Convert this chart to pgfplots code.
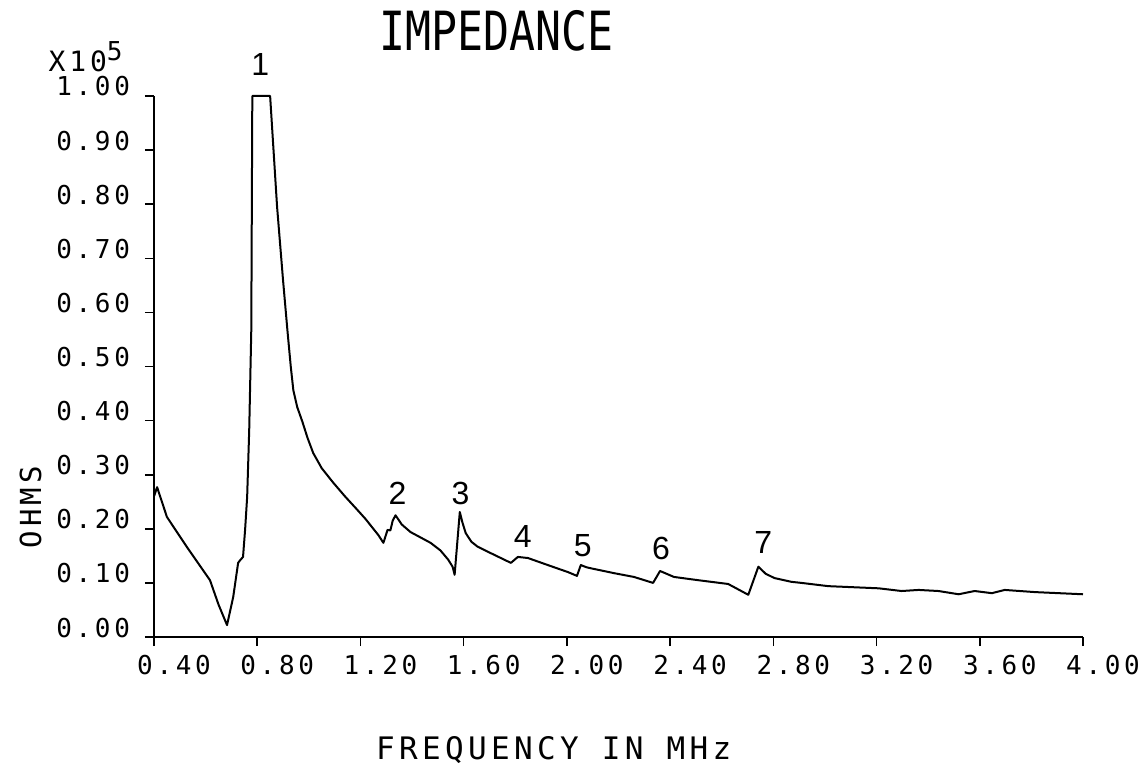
\documentclass[border=0pt]{standalone}
\usepackage{fontspec}
\usepackage{pgfplots}
\pgfplotsset{compat=1.18}

\newfontfamily\plotfont[LetterSpace=14]{DejaVu Sans Mono}
\newfontfamily\titlefont[FakeStretch=0.8]{DejaVu Sans Mono}
\newfontfamily\numfont{Liberation Sans}

\begin{document}
\begin{tikzpicture}
\begin{axis}[
  scale only axis,
  width=464.5pt, height=270.5pt,
  xmin=0.4, xmax=4.0,
  ymin=0, ymax=1.0,
  axis x line*=bottom,
  axis y line*=left,
  axis line style={-, line width=1pt},
  tick align=outside,
  major tick length=4.5pt,
  tick style={line width=0.8pt, black},
  xtick={0.4,0.8,...,4.01},
  ytick={0,0.1,...,1.01},
  /pgf/number format/assume math mode=true,
  xticklabel={\pgfmathprintnumber[fixed,fixed zerofill,precision=2]{\tick}},
  yticklabel={\pgfmathprintnumber[fixed,fixed zerofill,precision=2]{\tick}},
  ticklabel style={font=\plotfont\fontsize{13}{14}\selectfont},
  xticklabel style={anchor=north, xshift=10pt, yshift=-1pt},
  yticklabel style={anchor=base east, xshift=-4pt},
  clip=false,
]
\addplot[black, line width=1pt, line join=round] coordinates {
  (0.400, 0.260) (0.412, 0.277) (0.450, 0.222) (0.528, 0.166)
  (0.617, 0.105) (0.650, 0.060) (0.683, 0.022) (0.707, 0.074)
  (0.726, 0.137) (0.734, 0.142) (0.745, 0.148) (0.753, 0.198)
  (0.761, 0.259) (0.769, 0.383) (0.777, 0.567) (0.781, 1.000)
  (0.850, 1.000) (0.877, 0.795) (0.900, 0.660) (0.917, 0.567)
  (0.930, 0.500) (0.940, 0.456) (0.955, 0.425) (0.975, 0.398)
  (0.995, 0.368) (1.017, 0.340) (1.050, 0.312) (1.095, 0.285)
  (1.140, 0.260) (1.188, 0.235) (1.220, 0.218) (1.250, 0.200)
  (1.270, 0.188) (1.289, 0.174) (1.305, 0.198) (1.316, 0.197)
  (1.325, 0.215) (1.336, 0.225) (1.360, 0.208) (1.394, 0.194)
  (1.472, 0.174) (1.510, 0.160) (1.540, 0.143) (1.557, 0.130)
  (1.565, 0.115) (1.585, 0.231) (1.595, 0.212) (1.608, 0.192)
  (1.630, 0.176) (1.654, 0.167) (1.705, 0.155) (1.783, 0.137)
  (1.810, 0.148) (1.849, 0.146) (1.926, 0.133) (2.004, 0.120)
  (2.039, 0.113) (2.054, 0.133) (2.075, 0.129) (2.093, 0.127)
  (2.183, 0.118) (2.260, 0.111) (2.334, 0.100) (2.361, 0.122)
  (2.415, 0.111) (2.509, 0.105) (2.625, 0.098) (2.668, 0.087)
  (2.703, 0.078) (2.742, 0.130) (2.770, 0.117) (2.804, 0.109)
  (2.870, 0.102) (2.909, 0.100) (3.013, 0.094) (3.208, 0.090)
  (3.297, 0.085) (3.363, 0.087) (3.440, 0.085) (3.518, 0.079)
  (3.580, 0.085) (3.647, 0.081) (3.697, 0.087) (3.814, 0.083)
  (4.000, 0.079)
};
% peak numbers
\node[font=\numfont\fontsize{16}{18}\selectfont] at (axis cs:0.812,1.059) {1};
\node[font=\numfont\fontsize{16}{18}\selectfont] at (axis cs:1.344,0.266) {2};
\node[font=\numfont\fontsize{16}{18}\selectfont] at (axis cs:1.588,0.266) {3};
\node[font=\numfont\fontsize{16}{18}\selectfont] at (axis cs:1.829,0.185) {4};
\node[font=\numfont\fontsize{16}{18}\selectfont] at (axis cs:2.062,0.168) {5};
\node[font=\numfont\fontsize{16}{18}\selectfont] at (axis cs:2.365,0.163) {6};
\node[font=\numfont\fontsize{16}{18}\selectfont] at (axis cs:2.761,0.174) {7};
% titles
\node[font=\titlefont\fontsize{27}{30}\selectfont] at (axis cs:1.728,1.120) {IMPEDANCE};
\node[font=\plotfont\fontsize{14}{16}\selectfont] at (axis cs:0.135,1.072) {X10\raisebox{0.7ex}{\fontsize{13}{14}\selectfont 5}};
\node[font=\plotfont\fontsize{14.5}{16}\selectfont, rotate=90] at (axis cs:-0.078,0.240) {OHMS};
\node[font=\plotfont\fontsize{15.5}{18}\selectfont] at (axis cs:1.949,-0.209) {FREQUENCY IN MHz};
\end{axis}
\pgfresetboundingbox
\path ([xshift=-77pt,yshift=-67pt]current axis.south west)
  rectangle ([xshift=31.5pt,yshift=48pt]current axis.north east);
\end{tikzpicture}
\end{document}
